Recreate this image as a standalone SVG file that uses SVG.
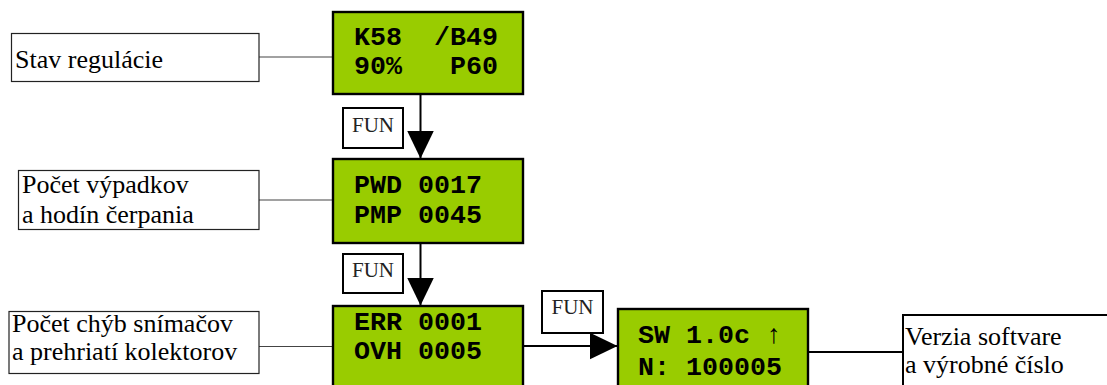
<svg xmlns="http://www.w3.org/2000/svg" width="1107" height="385" viewBox="0 0 1107 385">
<defs>
<style>
.lcd{fill:#99CC00;stroke:#000;stroke-width:2.4}
.lcdt{font-family:"Liberation Mono","DejaVu Sans Mono",monospace;font-weight:bold;font-size:26.7px;fill:#000;white-space:pre}
.lbl{fill:#fff;stroke:#222;stroke-width:1.2}
.lblt{font-family:"Liberation Serif","Times New Roman",serif;font-size:26px;fill:#000}
.fun{fill:#fff;stroke:#000;stroke-width:2}
.funt{font-family:"Liberation Serif","Times New Roman",serif;font-size:21px;fill:#222;text-anchor:middle}
.thin{stroke:#444;stroke-width:1.2;fill:none}
.thick{stroke:#000;stroke-width:2;fill:none}
</style>
<marker id="ah" viewBox="0 0 28 27" refX="28" refY="13.5" markerWidth="28" markerHeight="27" markerUnits="userSpaceOnUse" orient="auto">
<path d="M0,0 L28,13.5 L0,27 z" fill="#000"/>
</marker>
</defs>
<g id="connectors">
<line class="thin" x1="259" y1="57" x2="333" y2="57"/>
<line class="thin" x1="259" y1="200" x2="333" y2="200"/>
<line class="thin" x1="259" y1="346.5" x2="333" y2="346.5"/>
<line class="thick" x1="420.5" y1="94" x2="420.5" y2="158.5" marker-end="url(#ah)"/>
<line class="thick" x1="420.5" y1="243" x2="420.5" y2="305.5" marker-end="url(#ah)"/>
<line class="thick" x1="523" y1="346" x2="617.5" y2="346" marker-end="url(#ah)"/>
<line class="thick" x1="808" y1="352" x2="903" y2="352"/>
</g>
<g id="box-stav">
<rect class="lcd" x="333" y="12" width="190" height="82"/>
<text class="lcdt" x="354" y="45">K58  /B49</text>
<text class="lcdt" x="354" y="74">90%   P60</text>
</g>
<g id="box-pwd">
<rect class="lcd" x="333" y="159" width="190" height="84"/>
<text class="lcdt" x="354" y="193">PWD 0017</text>
<text class="lcdt" x="354" y="223">PMP 0045</text>
</g>
<g id="box-err">
<rect class="lcd" x="333" y="306" width="190" height="90"/>
<text class="lcdt" x="354" y="330">ERR 0001</text>
<text class="lcdt" x="354" y="359">OVH 0005</text>
</g>
<g id="box-sw">
<rect class="lcd" x="618" y="309" width="190" height="90"/>
<text class="lcdt" x="638" y="343">SW 1.0c ↑</text>
<text class="lcdt" x="638" y="375">N: 100005</text>
</g>
<g id="label-stav">
<rect class="lbl" x="11.5" y="33.5" width="247.5" height="48"/>
<text class="lblt" x="15" y="68">Stav regulácie</text>
</g>
<g id="label-pwd">
<rect class="lbl" x="18.5" y="170.5" width="240.5" height="59"/>
<text class="lblt" x="22" y="193">Počet výpadkov</text>
<text class="lblt" x="22" y="223">a hodín čerpania</text>
</g>
<g id="label-err">
<rect class="lbl" x="9" y="311.5" width="250" height="62"/>
<text class="lblt" x="12" y="331.5">Počet chýb snímačov</text>
<text class="lblt" x="12" y="360">a prehriatí kolektorov</text>
</g>
<g id="label-sw">
<rect x="903" y="315" width="220" height="90" fill="#fff" stroke="#000" stroke-width="2"/>
<text class="lblt" x="905" y="345">Verzia softvare</text>
<text class="lblt" x="905" y="373">a výrobné číslo</text>
</g>
<g id="fun-1">
<rect class="fun" x="343" y="108" width="60" height="40"/>
<text class="funt" x="373" y="131.5">FUN</text>
</g>
<g id="fun-2">
<rect class="fun" x="343" y="254" width="60" height="39"/>
<text class="funt" x="373" y="277">FUN</text>
</g>
<g id="fun-3">
<rect class="fun" x="542" y="291" width="61" height="42"/>
<text class="funt" x="572.5" y="313.5">FUN</text>
</g>
</svg>
